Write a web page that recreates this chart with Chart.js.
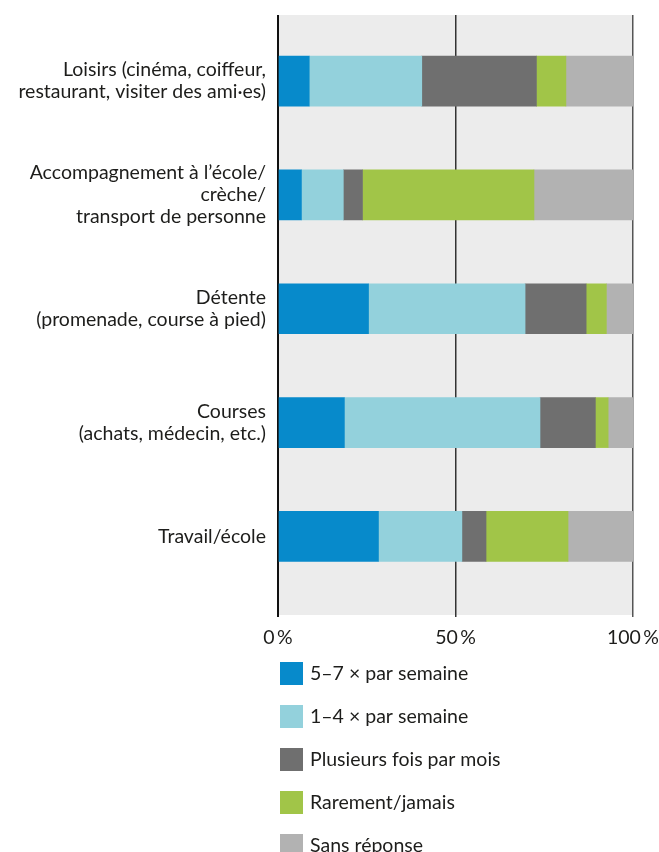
<!DOCTYPE html>
<html>
<head>
<meta charset="utf-8">
<script src="https://cdn.jsdelivr.net/npm/chart.js@4/dist/chart.umd.min.js"></script>
<style>
  html, body { margin: 0; padding: 0; background: #fff; }
  #wrap { width: 659px; height: 852px; position: relative; }
</style>
</head>
<body>
<div id="wrap"><canvas id="chart"></canvas></div>
<script>
// categories, top to bottom
const categories = [
  ['Loisirs (cinéma, coiffeur,', 'restaurant, visiter des ami·es)'],
  ['Accompagnement à l’école/', 'crèche/', 'transport de personne'],
  ['Détente', '(promenade, course à pied)'],
  ['Courses', '(achats, médecin, etc.)'],
  ['Travail/école']
];

// values in %
const daily    = [8.8, 6.6, 25.5, 18.7, 28.3];   // 5–7 × par semaine
const weekly   = [31.7, 11.8, 44.1, 55.1, 23.5]; // 1–4 × par semaine
const monthly  = [32.3, 5.4, 17.2, 15.6, 6.8];   // Plusieurs fois par mois
const rarely   = [8.3, 48.3, 5.7, 3.6, 23.1];    // Rarement/jamais
const noAnswer = [18.9, 27.9, 7.5, 7.0, 18.3];   // Sans réponse

const seriesNames = ['5–7 × par semaine', '1–4 × par semaine', 'Plusieurs fois par mois', 'Rarement/jamais', 'Sans réponse'];
const seriesColors = ['#078acb', '#93d1dc', '#6f6f6f', '#a1c548', '#b2b2b2'];
const xTicks = [0, 50, 100];

const FONT = 'Lato, "Open Sans", sans-serif';
const FSIZE = 19.5;
const TXT = '#1d1d1b';

function toPoints(arr) {
  return arr.map((v, i) => ({ x: v, y: i }));
}

const allSeries = [daily, weekly, monthly, rarely, noAnswer];
const datasets = allSeries.map((s, k) => ({
  label: seriesNames[k],
  data: toPoints(s),
  backgroundColor: seriesColors[k],
  borderWidth: 0,
  barThickness: 50
}));

// gray plot background
const plotBg = {
  id: 'plotBg',
  beforeDraw(chart) {
    const a = chart.chartArea, ctx = chart.ctx;
    ctx.save();
    ctx.fillStyle = '#ececec';
    ctx.fillRect(a.left, a.top, a.right - a.left, a.bottom - a.top);
    ctx.restore();
  }
};

// vertical legend under the chart
const stackLegend = {
  id: 'stackLegend',
  afterDraw(chart) {
    const ctx = chart.ctx;
    ctx.save();
    ctx.font = FSIZE + 'px ' + FONT;
    ctx.textBaseline = 'middle';
    chart.data.datasets.forEach((ds, i) => {
      const y = 662 + i * 43;
      ctx.fillStyle = ds.backgroundColor;
      ctx.fillRect(280, y, 23, 23);
      ctx.fillStyle = TXT;
      ctx.fillText(ds.label, 310, y + 12);
    });
    ctx.restore();
  }
};

new Chart(document.getElementById('chart'), {
  type: 'bar',
  data: { datasets: datasets },
  options: {
    indexAxis: 'y',
    responsive: true,
    maintainAspectRatio: false,
    animation: false,
    layout: { padding: { top: 14, right: 26, bottom: 0, left: 0 } },
    plugins: {
      legend: { display: false },
      tooltip: { enabled: false }
    },
    scales: {
      x: {
        type: 'linear',
        stacked: true,
        min: 0,
        max: 100,
        afterBuildTicks: (scale) => { scale.ticks = xTicks.map(v => ({ value: v })); },
        afterFit: (scale) => {
          scale.height = 237;
          scale.paddingLeft = 0;
          scale.paddingRight = 0;
        },
        border: { display: false },
        grid: {
          color: ['#111', '#333', '#555'],
          lineWidth: [2, 1.5, 1.5],
          tickLength: 2,
          drawOnChartArea: true
        },
        ticks: {
          font: { family: FONT, size: FSIZE },
          color: TXT,
          padding: 9,
          maxRotation: 0,
          callback: (v) => v + '\u2009%'
        }
      },
      y: {
        type: 'linear',
        stacked: true,
        reverse: true,
        offset: false,
        min: -0.58,
        max: 4.69,
        afterBuildTicks: (scale) => { scale.ticks = categories.map((c, i) => ({ value: i })); },
        afterFit: (scale) => { scale.width = 278; },
        border: { display: false },
        grid: { display: false, offset: false },
        ticks: {
          font: { family: FONT, size: FSIZE, lineHeight: 1.13 },
          color: TXT,
          padding: 4,
          crossAlign: 'near',
          callback: (v) => categories[v] || ''
        }
      }
    }
  },
  plugins: [plotBg, stackLegend]
});
</script>
</body>
</html>
